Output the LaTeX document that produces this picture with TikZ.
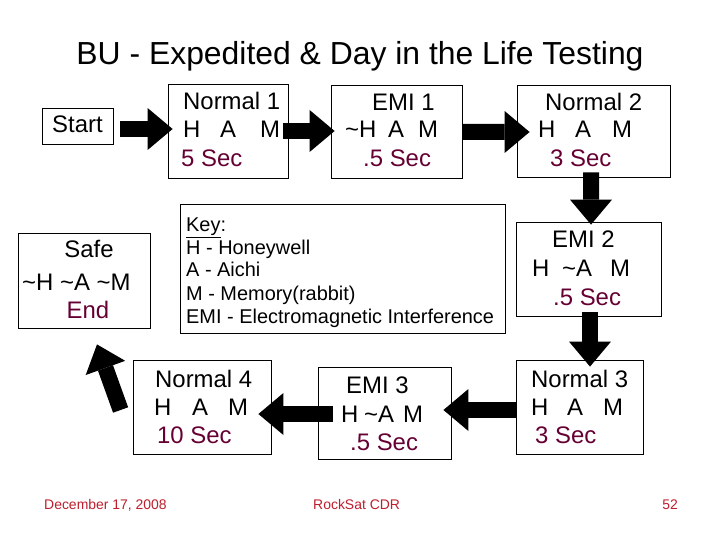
\documentclass[tikz,border=0pt]{standalone}
\usepackage{fontspec}
\setmainfont{Liberation Sans}
\usetikzlibrary{arrows.meta,calc}
\definecolor{secc}{RGB}{102,0,51}
\definecolor{footc}{RGB}{190,30,45}
\begin{document}
\begin{tikzpicture}[x=1bp,y=-1bp,
  box/.style={draw=black,line width=0.8bp,inner sep=0pt,fill=none},
  lbl/.style={anchor=base west,inner sep=0pt,font=\fontsize{24}{28}\selectfont},
  lblc/.style={anchor=base,inner sep=0pt,font=\fontsize{24}{28}\selectfont},
  keytxt/.style={anchor=base west,inner sep=0pt,font=\fontsize{20}{23}\selectfont},
  foot/.style={inner sep=0pt,text=footc,font=\fontsize{14}{16}\selectfont},
  blk/.style={line width=16bp,black,-{Triangle[width=42bp,length=25bp,line width=0pt]}}]
\useasboundingbox[fill=white] (0,0) rectangle (720,540);

% title
\node[anchor=base,inner sep=0pt,font=\fontsize{32}{36}\selectfont] (title) at (360,65) {BU - Expedited \& Day in the Life Testing};

% boxes
\node[box,minimum width=71bp,minimum height=36bp] (st) at (77.5,126) {};
\node[box,minimum width=120bp,minimum height=94bp] (n1) at (228,131) {};
\node[box,minimum width=131bp,minimum height=93bp] (e1) at (396.5,131.5) {};
\node[box,minimum width=153bp,minimum height=92bp] (n2) at (593.5,131) {};
\node[box,minimum width=132bp,minimum height=95bp] (sf) at (84,280.5) {};
\node[box,minimum width=325bp,minimum height=129bp] (key) at (342.5,268.5) {};
\node[box,minimum width=145bp,minimum height=94bp] (e2) at (588.5,269) {};
\node[box,minimum width=127bp,minimum height=94bp] (n3) at (579.5,407) {};
\node[box,minimum width=138bp,minimum height=94bp] (n4) at (202,407) {};
\node[box,minimum width=133bp,minimum height=92bp] (e3) at (384.5,413) {};

% texts
\node[lbl] (tst) at (52,133) {Start};

\node[lbl] (tn1a) at (183,110) {Normal 1};
\node[lbl] (tn1b) at (183,138) {\rlap{H}\hspace{37bp}\rlap{A}\hspace{40bp}M};
\node[lbl,text=secc] (tn1c) at (181,167) {5 Sec};

\node[lbl] (te1a) at (372,111) {EMI 1};
\node[lbl] (te1b) at (345,138) {\rlap{\textasciitilde H}\hspace{43bp}\rlap{A}\hspace{30bp}M};
\node[lbl,text=secc] (te1c) at (363,167) {.5 Sec};

\node[lbl] (tn2a) at (545,111) {Normal 2};
\node[lbl] (tn2b) at (538,138) {\rlap{H}\hspace{37bp}\rlap{A}\hspace{37bp}M};
\node[lbl,text=secc] (tn2c) at (550,167) {3 Sec};

\node[lblc] (tsfa) at (89,258) {Safe};
\node[lbl] (tsfb) at (22,290) {\textasciitilde H \textasciitilde A \textasciitilde M};
\node[lblc,text=secc] (tsfc) at (88,318) {End};

\node[keytxt] (tk0) at (186,232) {\underline{Key}:};
\node[keytxt] (tk1) at (186,255) {H - Honeywell};
\node[keytxt] (tk2) at (186,277) {A - Aichi};
\node[keytxt] (tk3) at (186,300) {M - Memory(rabbit)};
\node[keytxt] (tk4) at (186,323) {EMI - Electromagnetic Interference};

\node[lbl] (te2a) at (552,248) {EMI 2};
\node[lbl] (te2b) at (532,277) {\rlap{H}\hspace{30bp}\rlap{\textasciitilde A}\hspace{48bp}M};
\node[lbl,text=secc] (te2c) at (553,305) {.5 Sec};

\node[lbl] (tn3a) at (531,387) {Normal 3};
\node[lbl] (tn3b) at (531,415) {\rlap{H}\hspace{36bp}\rlap{A}\hspace{36bp}M};
\node[lbl,text=secc] (tn3c) at (535,443) {3 Sec};

\node[lbl] (tn4a) at (155,387) {Normal 4};
\node[lbl] (tn4b) at (154,415) {\rlap{H}\hspace{38bp}\rlap{A}\hspace{36bp}M};
\node[lbl,text=secc] (tn4c) at (157,443) {10 Sec};

\node[lbl] (te3a) at (346,393) {EMI 3};
\node[lbl] (te3b) at (341,422) {\rlap{H}\hspace{23bp}\rlap{\textasciitilde A}\hspace{39bp}M};
\node[lbl,text=secc] (te3c) at (350,450) {.5 Sec};

% footer
\node[foot,anchor=base west] (fd) at (44,509) {December 17, 2008};
\node[foot,anchor=base west] (fr) at (313,509) {RockSat CDR};
\node[foot,anchor=base east] (fn) at (678,509) {52};

% arrows
\draw[blk] ($(st.east)+(7,3)$) -- ($(n1.west)+(5,-2)$);
\draw[blk] ($(n1.east)+(-5,0)$) -- ($(e1.west)+(4,-0.5)$);
\draw[blk] ($(e1.east)+(0,0.5)$) -- ($(n2.west)+(13,1)$);
\draw[blk] ($(n2.south)+(-2.5,-5)$) -- ($(e2.north)+(2.5,3)$);
\draw[blk] ($(e2.south)+(1.5,-4)$) -- ($(n3.north)+(10.5,7)$);
\draw[blk] ($(n3.west)+(1,3)$) -- ($(e3.east)+(-8,-3)$);
\draw[blk] ($(e3.west)+(15,1)$) -- ($(n4.east)+(-13,7)$);
\draw[blk] ($(n4.west)+(-12,3)$) -- ($(sf.south)+(13,16)$);
\end{tikzpicture}
\end{document}
